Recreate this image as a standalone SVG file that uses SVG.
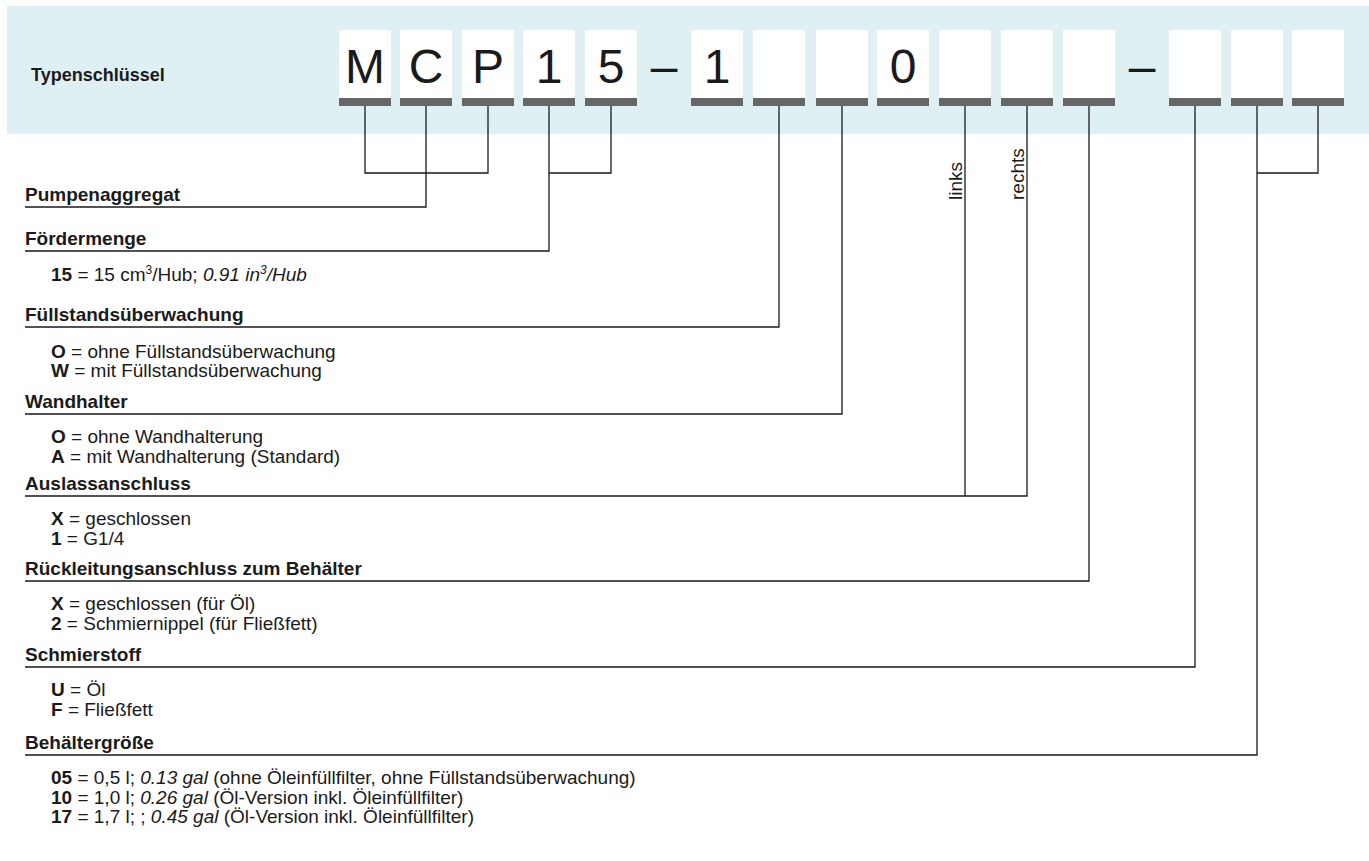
<svg xmlns="http://www.w3.org/2000/svg" width="1369" height="861" viewBox="0 0 1369 861">
<style>
text{font-family:"Liberation Sans",Arial,sans-serif;fill:#1a1a1a}
.t{font-size:18px;font-weight:bold}
.h{font-size:19px;font-weight:bold}
.v{font-size:19px}
.r{font-size:19px}
.b{font-weight:bold}
.i{font-style:italic}
.sup{font-size:12px}
.big{font-size:48px;text-anchor:middle}
.box{fill:#ffffff}
.bar{fill:#666666}
.ln{fill:none;stroke:#1a1a1a;stroke-width:1.3}
</style>
<rect x="7" y="6" width="1362" height="128" fill="#dff0f4"/>
<text class="t" x="31" y="81">Typenschlüssel</text>
<g id="key">
<g id="k1"><rect class="box" x="339" y="30" width="52" height="68"/><rect class="bar" x="339" y="98" width="52" height="8"/><text class="big" x="365" y="83">M</text></g>
<g id="k2"><rect class="box" x="400" y="30" width="52" height="68"/><rect class="bar" x="400" y="98" width="52" height="8"/><text class="big" x="426" y="83">C</text></g>
<g id="k3"><rect class="box" x="462" y="30" width="52" height="68"/><rect class="bar" x="462" y="98" width="52" height="8"/><text class="big" x="488" y="83">P</text></g>
<g id="k4"><rect class="box" x="523" y="30" width="52" height="68"/><rect class="bar" x="523" y="98" width="52" height="8"/><text class="big" x="549" y="83">1</text></g>
<g id="k5"><rect class="box" x="585" y="30" width="52" height="68"/><rect class="bar" x="585" y="98" width="52" height="8"/><text class="big" x="611" y="83">5</text></g>
<text class="big" x="664" y="83">–</text>
<g id="k6"><rect class="box" x="691" y="30" width="52" height="68"/><rect class="bar" x="691" y="98" width="52" height="8"/><text class="big" x="717" y="83">1</text></g>
<g id="k7"><rect class="box" x="753" y="30" width="52" height="68"/><rect class="bar" x="753" y="98" width="52" height="8"/></g>
<g id="k8"><rect class="box" x="816" y="30" width="52" height="68"/><rect class="bar" x="816" y="98" width="52" height="8"/></g>
<g id="k9"><rect class="box" x="877" y="30" width="52" height="68"/><rect class="bar" x="877" y="98" width="52" height="8"/><text class="big" x="903" y="83">0</text></g>
<g id="k10"><rect class="box" x="939" y="30" width="52" height="68"/><rect class="bar" x="939" y="98" width="52" height="8"/></g>
<g id="k11"><rect class="box" x="1001" y="30" width="52" height="68"/><rect class="bar" x="1001" y="98" width="52" height="8"/></g>
<g id="k12"><rect class="box" x="1063" y="30" width="52" height="68"/><rect class="bar" x="1063" y="98" width="52" height="8"/></g>
<text class="big" x="1142" y="83">–</text>
<g id="k13"><rect class="box" x="1169" y="30" width="52" height="68"/><rect class="bar" x="1169" y="98" width="52" height="8"/></g>
<g id="k14"><rect class="box" x="1231" y="30" width="52" height="68"/><rect class="bar" x="1231" y="98" width="52" height="8"/></g>
<g id="k15"><rect class="box" x="1292" y="30" width="52" height="68"/><rect class="bar" x="1292" y="98" width="52" height="8"/></g>
</g>
<g id="connectors">
<polyline class="ln" points="365,106 365,173 488,173 488,106"/>
<polyline class="ln" points="426,106 426,207 25,207"/>
<polyline class="ln" points="611,106 611,173 549,173"/>
<polyline class="ln" points="549,106 549,251 25,251"/>
<polyline class="ln" points="779,106 779,327 25,327"/>
<polyline class="ln" points="842,106 842,414 25,414"/>
<polyline class="ln" points="965,106 965,496"/>
<polyline class="ln" points="1027,106 1027,496 25,496"/>
<polyline class="ln" points="1089,106 1089,581 25,581"/>
<polyline class="ln" points="1195,106 1195,667 25,667"/>
<polyline class="ln" points="1318,106 1318,173 1257,173"/>
<polyline class="ln" points="1257,106 1257,755 25,755"/>
</g>
<text class="r" transform="translate(962,200) rotate(-90)">links</text>
<text class="r" transform="translate(1024,200) rotate(-90)">rechts</text>
<g id="pumpenaggregat"><text class="h" x="25" y="201">Pumpenaggregat</text></g>
<g id="foerdermenge">
<text class="h" x="25" y="245">Fördermenge</text>
<text class="v" x="51" y="281"><tspan class="b">15</tspan> = 15 cm<tspan class="sup" dy="-7">3</tspan><tspan dy="7">/Hub; </tspan><tspan class="i">0.91 in</tspan><tspan class="i sup" dy="-7">3</tspan><tspan class="i" dy="7">/Hub</tspan></text>
</g>
<g id="fuellstand">
<text class="h" x="25" y="321">Füllstandsüberwachung</text>
<text class="v" x="51" y="357.5"><tspan class="b">O</tspan> = ohne Füllstandsüberwachung</text>
<text class="v" x="51" y="377"><tspan class="b">W</tspan> = mit Füllstandsüberwachung</text>
</g>
<g id="wandhalter">
<text class="h" x="25" y="408">Wandhalter</text>
<text class="v" x="51" y="443"><tspan class="b">O</tspan> = ohne Wandhalterung</text>
<text class="v" x="51" y="462.5"><tspan class="b">A</tspan> = mit Wandhalterung (Standard)</text>
</g>
<g id="auslass">
<text class="h" x="25" y="490">Auslassanschluss</text>
<text class="v" x="51" y="525"><tspan class="b">X</tspan> = geschlossen</text>
<text class="v" x="51" y="544.5"><tspan class="b">1</tspan> = G1/4</text>
</g>
<g id="rueckleitung">
<text class="h" x="25" y="575">Rückleitungsanschluss zum Behälter</text>
<text class="v" x="51" y="610"><tspan class="b">X</tspan> = geschlossen (für Öl)</text>
<text class="v" x="51" y="629.5"><tspan class="b">2</tspan> = Schmiernippel (für Fließfett)</text>
</g>
<g id="schmierstoff">
<text class="h" x="25" y="661">Schmierstoff</text>
<text class="v" x="51" y="696"><tspan class="b">U</tspan> = Öl</text>
<text class="v" x="51" y="715.5"><tspan class="b">F</tspan> = Fließfett</text>
</g>
<g id="behaelter">
<text class="h" x="25" y="749">Behältergröße</text>
<text class="v" x="51" y="784"><tspan class="b">05</tspan> = 0,5 l; <tspan class="i">0.13 gal</tspan> (ohne Öleinfüllfilter, ohne Füllstandsüberwachung)</text>
<text class="v" x="51" y="803.5"><tspan class="b">10</tspan> = 1,0 l; <tspan class="i">0.26 gal</tspan> (Öl-Version inkl. Öleinfüllfilter)</text>
<text class="v" x="51" y="823"><tspan class="b">17</tspan> = 1,7 l; ; <tspan class="i">0.45 gal</tspan> (Öl-Version inkl. Öleinfüllfilter)</text>
</g>
</svg>
